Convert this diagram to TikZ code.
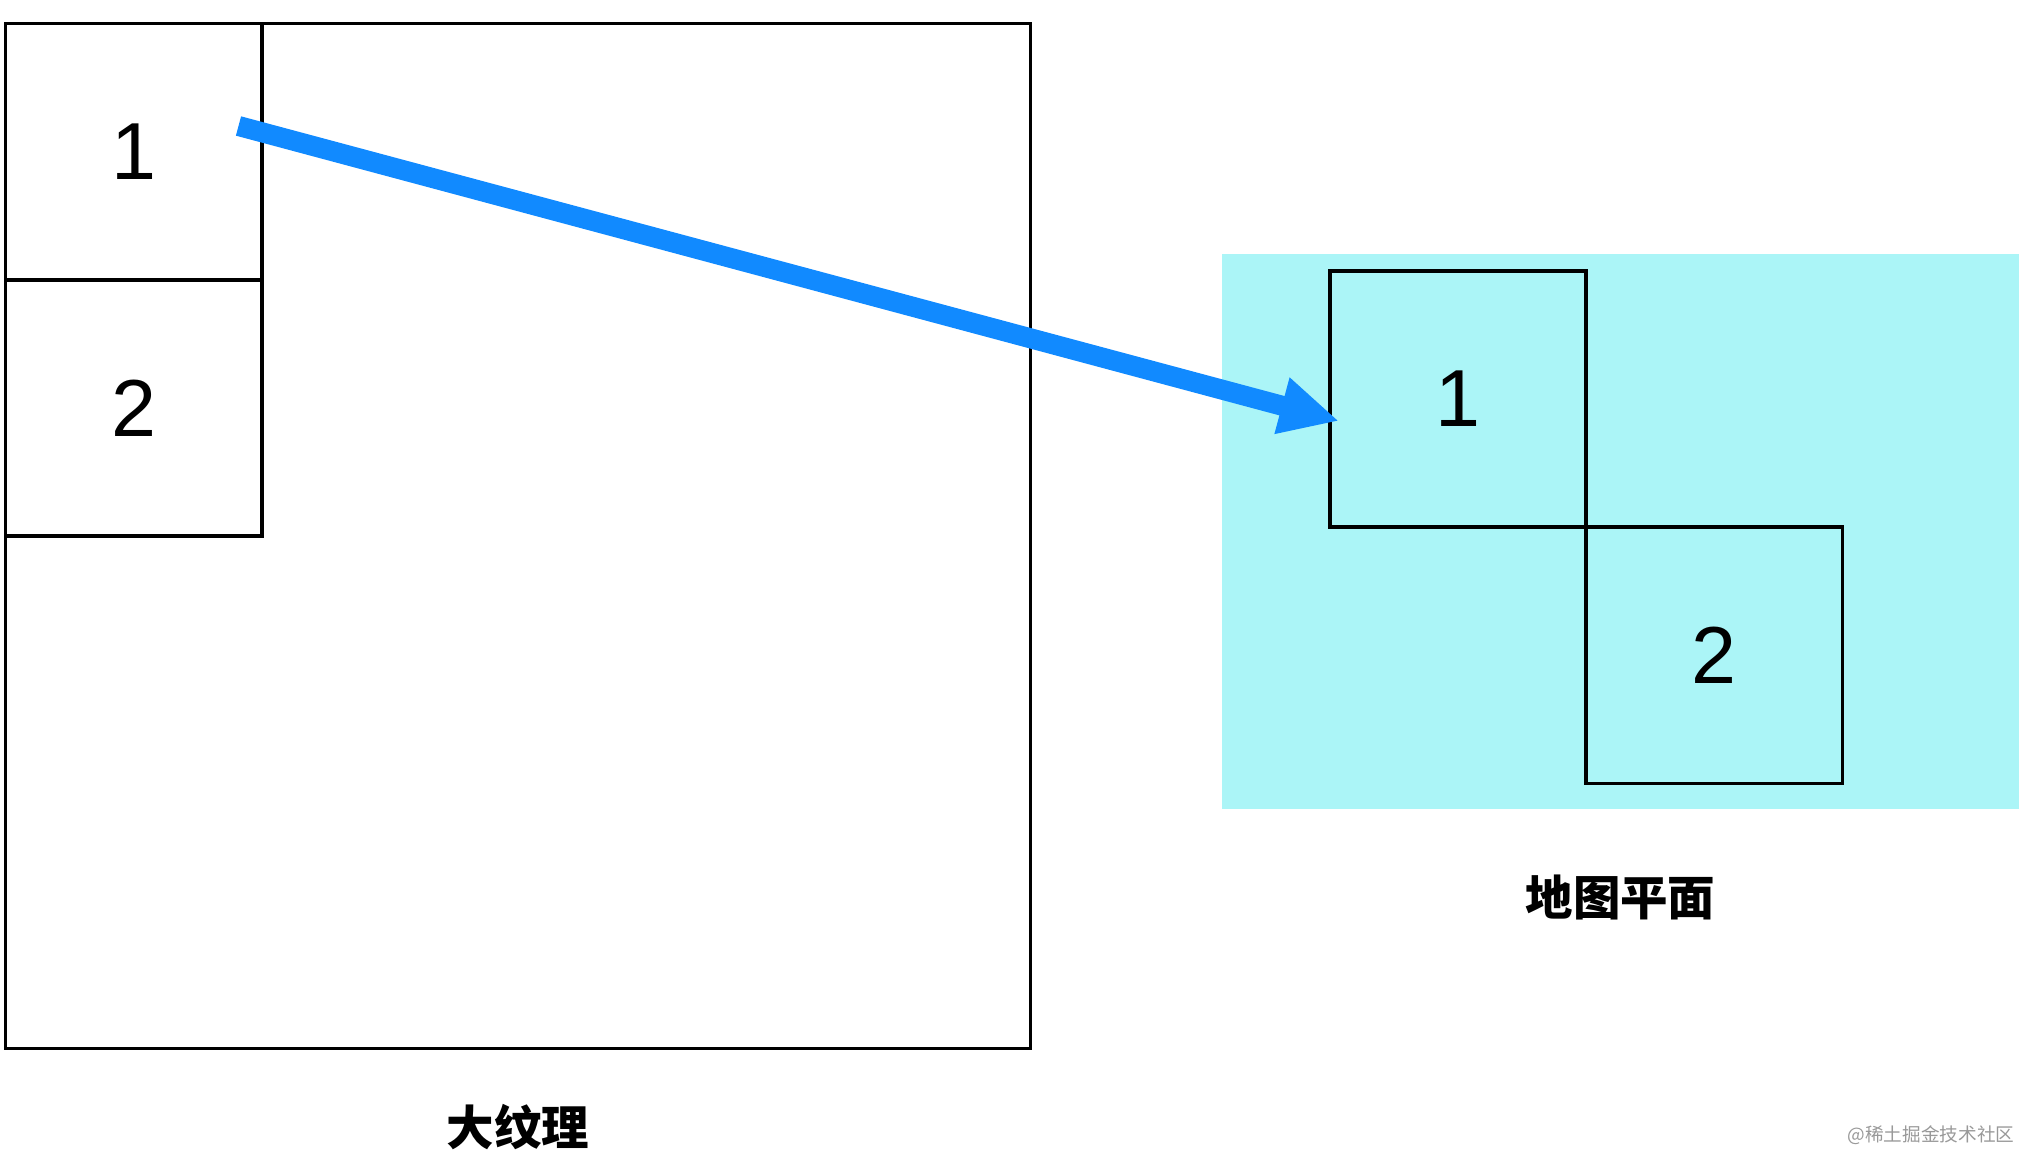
\documentclass[tikz,border=0pt]{standalone}
\usepackage{fontspec}
\setmainfont{Liberation Sans}
\newfontfamily\cjk{Noto Sans CJK SC}
\usetikzlibrary{arrows.meta,positioning}
\definecolor{planecyan}{RGB}{171,245,247}
\definecolor{arrowblue}{RGB}{17,138,255}

\begin{document}
\begin{tikzpicture}[x=0.01cm, y=-0.01cm,
		frame/.style={draw=black, line width=0.033cm, inner sep=0pt, outer sep=0pt},
		tile/.style={frame, minimum width=2.56cm, minimum height=2.56cm, font=\fontsize{23}{26}\selectfont},
		caption/.style={font=\cjk\bfseries\fontsize{13.5}{16}\selectfont},
		link/.style={draw=arrowblue, line width=0.2cm, -{Triangle[length=0.59cm, width=0.54cm]}}]
			%%%%% START %%%%%
			
			\useasboundingbox (0, 0) rectangle (2042, 1176);
			
			% big texture
			\node[frame, minimum width=10.24cm, minimum height=10.24cm] (tex) at (518, 536) {};
			\node[tile, anchor=north west] (tone) at (tex.north west) {1};
			\node[tile, below=0pt of tone] (ttwo) {2};
			\node[caption] (texlabel) at (518, 1127) {大纹理};
			
			% map plane
			\node[fill=planecyan, minimum width=7.97cm, minimum height=5.55cm, inner sep=0pt] (plane) at (1620.5, 531.5) {};
			\node[tile] (pone) at (1458, 399) {1};
			\node[tile, below right=0pt of pone] (ptwo) {2};
			\node[caption] (planelabel) at (1620.5, 897) {地图平面};
			
			% copy tile 1 onto the plane
			\coordinate (src) at (238.5, 126);
			\coordinate (dst) at (1339, 421);
			\draw[link] (src) -- (dst);
			
			\node[font=\cjk\fontsize{5.3}{7}\selectfont, text=black!40] (mark) at (1931, 1135.5) {@稀土掘金技术社区};
			
			%%%%% END %%%%%
\end{tikzpicture}
\end{document}
